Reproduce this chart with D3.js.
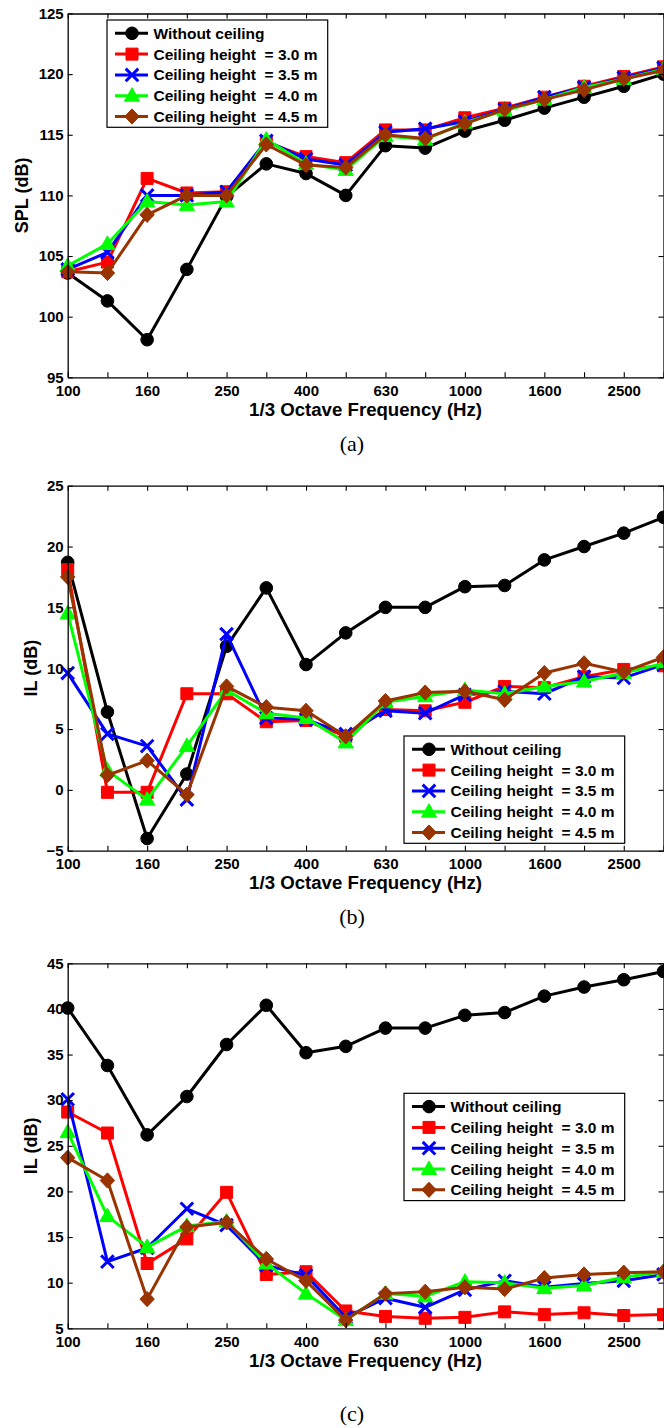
<!DOCTYPE html>
<html>
<head>
<meta charset="utf-8">
<script src="https://cdn.jsdelivr.net/npm/d3@7"></script>
<style>
  html, body { margin: 0; padding: 0; background: #fff; }
  svg { display: block; }
  text { font-family: "Liberation Sans", Arial, sans-serif; font-weight: bold; fill: #000; }
</style>
</head>
<body>
<script>
// ---------- data ----------
const freqs = ["100","125","160","200","250","315","400","500","630","800","1000","1250","1600","2000","2500","3150"];
const xTickLabels = ["100","160","250","400","630","1000","1600","2500"];
const seriesNames = ["Without ceiling","Ceiling height  = 3.0 m","Ceiling height  = 3.5 m","Ceiling height  = 4.0 m","Ceiling height  = 4.5 m"];

// panel (a) SPL (dB)
const splNoCeiling = [103.6,101.3,98.1,103.9,109.9,112.6,111.8,110.0,114.1,113.9,115.3,116.2,117.2,118.1,119.0,120.0];
const spl30 = [103.7,104.5,111.4,110.2,110.3,114.4,113.2,112.7,115.4,115.4,116.4,117.2,118.1,119.0,119.8,120.6];
const spl35 = [103.9,105.3,110.0,110.0,110.3,114.5,113.0,112.5,115.2,115.5,116.1,117.1,118.1,118.9,119.7,120.5];
const spl40 = [104.2,106.0,109.5,109.2,109.5,114.6,112.6,112.1,114.9,114.6,116.0,117.0,117.9,118.9,119.6,120.4];
const spl45 = [103.7,103.6,108.4,110.0,110.0,114.2,112.5,112.3,115.0,114.7,115.9,117.1,117.9,118.7,119.6,120.3];
const splTicks = [95,100,105,110,115,120,125];

// panel (b) IL (dB)
const ilbNoCeiling = [18.7,6.4,-4.0,1.3,11.8,16.6,10.3,12.9,15.0,15.0,16.7,16.8,18.9,20.0,21.1,22.4];
const ilb30 = [18.1,-0.2,-0.2,7.9,7.9,5.6,5.7,4.4,6.6,6.5,7.2,8.5,8.4,9.3,9.9,10.2];
const ilb35 = [9.6,4.6,3.6,-0.8,12.8,5.9,5.8,4.6,6.5,6.3,7.8,8.1,7.9,9.3,9.2,10.3];
const ilb40 = [14.5,1.6,-0.8,3.6,8.2,6.3,5.9,3.9,7.2,7.7,8.2,7.9,8.5,8.9,9.6,10.4];
const ilb45 = [17.5,1.2,2.4,-0.4,8.5,6.8,6.5,4.4,7.3,8.0,8.1,7.4,9.6,10.4,9.7,10.9];
const ilbTicks = [-5,0,5,10,15,20,25];

// panel (c) IL (dB)
const ilcNoCeiling = [40.1,33.8,26.2,30.4,36.1,40.4,35.2,35.9,37.9,37.9,39.3,39.6,41.4,42.4,43.2,44.1];
const ilc30 = [28.7,26.4,12.1,14.8,19.9,10.9,11.2,6.9,6.3,6.1,6.2,6.8,6.5,6.7,6.4,6.5];
const ilc35 = [30.1,12.3,13.8,18.1,16.3,11.9,10.8,6.2,8.3,7.3,9.2,10.2,9.5,9.9,10.2,10.9];
const ilc40 = [26.5,17.3,13.9,16.2,16.7,12.1,8.8,5.9,8.8,8.5,10.1,10.0,9.4,9.7,10.6,11.2];
const ilc45 = [23.7,21.2,8.2,16.1,16.6,12.6,10.2,5.9,8.8,9.0,9.5,9.3,10.5,10.9,11.1,11.2];
const ilcTicks = [5,10,15,20,25,30,35,40,45];

// ---------- styles ----------
const colors = ["#000000","#ff0000","#0000ff","#00ff00","#993300"];
const markerKinds = ["circle","square","x","triangle","diamond"];

const symbolTypes = {
  circle:   { draw(c){ const r = 6.3; c.moveTo(r,0); c.arc(0,0,r,0,2*Math.PI); c.closePath(); } },
  square:   { draw(c){ const h = 6; c.moveTo(-h,-h); c.lineTo(h,-h); c.lineTo(h,h); c.lineTo(-h,h); c.closePath(); } },
  x:        { draw(c){ const h = 6.3; c.moveTo(-h,-h); c.lineTo(h,h); c.moveTo(h,-h); c.lineTo(-h,h); } },
  triangle: { draw(c){ c.moveTo(0,-8); c.lineTo(7.6,5.5); c.lineTo(-7.6,5.5); c.closePath(); } },
  diamond:  { draw(c){ c.moveTo(0,-7.6); c.lineTo(7.2,0); c.lineTo(0,7.6); c.lineTo(-7.2,0); c.closePath(); } }
};

function markerAttrs(sel, kind, color) {
  sel.attr("d", d3.symbol().type(symbolTypes[kind])());
  if (kind === "x") {
    sel.attr("fill","none").attr("stroke",color).attr("stroke-width",3);
  } else {
    sel.attr("fill",color).attr("stroke",color).attr("stroke-width",1);
  }
}

const W = 664, H = 1428;
const L = 67.7, R = 663.5;

const svg = d3.select("body").append("svg").attr("width", W).attr("height", H);

function drawPanel(p) {
  const x = d3.scalePoint().domain(freqs).range([L, R]).padding(0);
  const y = d3.scaleLinear().domain(p.domain).range([p.bottom, p.top]);
  const g = svg.append("g");

  // series
  const line = d3.line().x((d,i) => x(freqs[i])).y(d => y(d));
  p.series.forEach((vals, si) => {
    const sg = g.append("g");
    sg.append("path").datum(vals)
      .attr("d", line)
      .attr("fill","none")
      .attr("stroke", colors[si])
      .attr("stroke-width", 3)
      .attr("stroke-linejoin","round");
    sg.selectAll("path.m").data(vals).enter().append("path")
      .attr("class","m")
      .attr("transform", (d,i) => `translate(${x(freqs[i])},${y(d)})`)
      .call(markerAttrs, markerKinds[si], colors[si]);
  });

  // axes (box with inward ticks)
  const axB = g.append("g").attr("transform", `translate(0,${p.bottom})`)
    .call(d3.axisBottom(x).tickSize(-5).tickSizeOuter(0).tickPadding(7.9)
      .tickFormat(d => xTickLabels.includes(d) ? d : ""));
  const axT = g.append("g").attr("transform", `translate(0,${p.top})`)
    .call(d3.axisTop(x).tickSize(-5).tickSizeOuter(0).tickFormat(""));
  const axLft = g.append("g").attr("transform", `translate(${L},0)`)
    .call(d3.axisLeft(y).tickValues(p.ticks).tickSize(-5).tickSizeOuter(0).tickPadding(4).tickFormat(d3.format("d")));
  const axRgt = g.append("g").attr("transform", `translate(${R},0)`)
    .call(d3.axisRight(y).tickValues(p.ticks).tickSize(-5).tickSizeOuter(0).tickFormat(""));
  [axB, axT, axLft, axRgt].forEach(a => {
    a.selectAll("path.domain").attr("stroke","#000").attr("stroke-width",1.3);
    a.selectAll(".tick line").attr("stroke","#000").attr("stroke-width",1.1);
    a.selectAll("text").attr("font-size",15).attr("font-family",null).attr("fill","#000");
  });
  g.selectAll(".tick text").style("font-family",'"Liberation Sans", Arial, sans-serif').style("font-weight","bold");

  // axis titles
  g.append("text")
    .attr("x", (L + R) / 2).attr("y", p.bottom + 38.5)
    .attr("text-anchor","middle").attr("font-size",18)
    .attr("textLength", 233).attr("lengthAdjust","spacingAndGlyphs")
    .text("1/3 Octave Frequency (Hz)");
  g.append("text")
    .attr("transform", `translate(${p.ylabelX},${(p.top + p.bottom) / 2}) rotate(-90)`)
    .attr("text-anchor","middle").attr("font-size",18)
    .text(p.ylabel);

  // caption
  g.append("text")
    .attr("x", 352).attr("y", p.captionY)
    .attr("text-anchor","middle")
    .style("font-family",'"Liberation Serif", "Times New Roman", serif')
    .style("font-weight","normal")
    .attr("font-size",22)
    .text(p.caption);

  // legend
  const lg = g.append("g").attr("transform", `translate(${p.legend[0]},${p.legend[1]})`);
  lg.append("rect").attr("x",0).attr("y",0).attr("width",220.7).attr("height",107.3)
    .attr("fill","#fff").attr("stroke","#000").attr("stroke-width",1.2);
  seriesNames.forEach((name, si) => {
    const ry = 13.3 + si * 20.8;
    const row = lg.append("g").attr("transform", `translate(0,${ry})`);
    row.append("line").attr("x1",8).attr("x2",41).attr("y1",0).attr("y2",0)
      .attr("stroke",colors[si]).attr("stroke-width",3);
    row.append("path").attr("transform","translate(25,0)").call(markerAttrs, markerKinds[si], colors[si]);
    row.append("text").attr("x",46.5).attr("y",5.5).attr("font-size",15.5)
      .style("white-space","pre").text(name);
  });
}

drawPanel({
  top: 13.5, bottom: 377.3, domain: [95,125], ticks: splTicks,
  series: [splNoCeiling, spl30, spl35, spl40, spl45],
  ylabel: "SPL (dB)", ylabelX: 28, caption: "(a)", captionY: 451,
  legend: [107, 20]
});
drawPanel({
  top: 485.7, bottom: 850.7, domain: [-5,25], ticks: ilbTicks,
  series: [ilbNoCeiling, ilb30, ilb35, ilb40, ilb45],
  ylabel: "IL (dB)", ylabelX: 36.5, caption: "(b)", captionY: 924,
  legend: [404, 736]
});
drawPanel({
  top: 963.3, bottom: 1328.3, domain: [5,45], ticks: ilcTicks,
  series: [ilcNoCeiling, ilc30, ilc35, ilc40, ilc45],
  ylabel: "IL (dB)", ylabelX: 36.5, caption: "(c)", captionY: 1421,
  legend: [404, 1093.3]
});
</script>
</body>
</html>
